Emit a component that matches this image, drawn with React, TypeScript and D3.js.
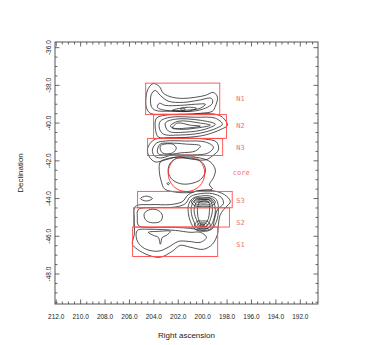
import * as d3 from "d3";

// plot frame (pixels)
const width = 376;
const height = 345;
const frame = { left: 55, top: 42, right: 318, bottom: 304 };

const raDomain = [212.1, 190.55];
const decDomain = [-35.7, -49.59];

const raTicks = [212, 210, 208, 206, 204, 202, 200, 198, 196, 194, 192];
const decTicks = [-36, -38, -40, -42, -44, -46, -48];
const minorStep = 0.5;

// red boxes
const boxNames = ["N1", "N2", "N3", "S3", "S2", "S1"];
const boxRa = [
  [204.67, 198.6],
  [204.02, 198.05],
  [204.51, 198.36],
  [205.33, 197.58],
  [205.66, 197.81],
  [205.74, 198.77],
];
const boxDec = [
  [-37.88, -39.55],
  [-39.55, -40.81],
  [-40.81, -41.72],
  [-43.62, -44.49],
  [-44.49, -45.51],
  [-45.51, -47.07],
];
const labelRa = 197.24;
const labelDec = [-38.69, -40.15, -41.3, -44.09, -45.28, -46.46];

const core = { ra: 201.33, dec: -42.66, radius: 0.97 };
const coreLabel = { ra: 197.53, dec: -42.6 };

// contour rings, [RA, Dec]
const n1Contours = [
  [[204.62,-39.16],[204.62,-38.53],[204.45,-38.16],[204.04,-37.9],[203.55,-38.06],[203.22,-38.42],[202.48,-38.63],[201.58,-38.69],[200.6,-38.63],[199.78,-38.53],[199.12,-38.37],[198.79,-38.63],[198.96,-39.11],[199.2,-39.37],[200.19,-39.48],[201.42,-39.53],[203.06,-39.53],[204.29,-39.48]],
  [[204.21,-39.11],[204.21,-38.48],[203.88,-38.27],[203.47,-38.53],[202.81,-38.84],[201.58,-38.9],[200.35,-38.79],[199.28,-38.69],[199.2,-38.95],[199.78,-39.21],[200.84,-39.37],[202.65,-39.37],[203.88,-39.32]],
  [[203.71,-39.16],[203.55,-38.95],[203.06,-39.06],[201.83,-39.06],[200.6,-39.0],[199.78,-39.0],[200.19,-39.21],[201.42,-39.32],[203.06,-39.32]],
  [[202.48,-39.32],[201.83,-39.21],[201.17,-39.16],[200.51,-39.21],[201.17,-39.37],[201.99,-39.37]],
  [[201.83,-39.24],[201.58,-39.21],[201.42,-39.27],[201.66,-39.32]],
];

const n2Contours = [
  [[203.79,-39.74],[203.06,-39.58],[201.01,-39.53],[198.96,-39.53],[198.38,-39.69],[197.97,-40.11],[198.46,-40.32],[199.78,-40.63],[201.01,-40.74],[202.65,-40.79],[203.63,-40.74],[203.88,-40.27]],
  [[203.47,-39.9],[202.65,-39.69],[200.6,-39.69],[198.96,-39.74],[198.38,-40.06],[198.87,-40.27],[200.19,-40.53],[201.83,-40.63],[203.22,-40.58],[203.55,-40.27]],
  [[203.06,-40.0],[202.24,-39.79],[200.19,-39.85],[198.96,-40.06],[199.78,-40.32],[201.42,-40.48],[202.81,-40.42]],
  [[202.65,-40.16],[201.99,-39.9],[200.19,-40.0],[199.37,-40.11],[200.6,-40.27],[201.99,-40.32]],
  [[202.48,-40.27],[202.07,-40.0],[201.01,-40.11],[200.19,-40.16],[201.42,-40.27]],
];

const n3Contours = [
  [[204.53,-41.42],[204.29,-41.06],[203.88,-40.85],[203.06,-40.79],[201.42,-40.79],[199.78,-40.85],[198.87,-41.0],[198.71,-41.42],[199.2,-41.74],[199.78,-41.95],[201.01,-41.9],[201.99,-41.79],[203.06,-41.95],[203.88,-42.06],[204.37,-41.79]],
  [[204.12,-41.42],[203.79,-41.06],[203.06,-40.95],[201.42,-40.95],[199.78,-41.0],[199.12,-41.27],[199.53,-41.58],[201.01,-41.69],[202.48,-41.69],[203.47,-41.85],[203.96,-41.74]],
  [[203.71,-41.42],[203.47,-41.11],[202.65,-41.06],[201.42,-41.11],[200.19,-41.21],[200.6,-41.48],[201.83,-41.58],[203.06,-41.69],[203.63,-41.63]],
  [[203.47,-41.21],[202.48,-41.11],[202.16,-41.32],[202.48,-41.58],[203.3,-41.58]],
];

const coreContours = [
  [[203.47,-42.06],[202.65,-41.85],[201.33,-41.79],[200.19,-41.85],[199.37,-42.06],[198.96,-42.48],[199.12,-42.9],[199.45,-43.27],[199.2,-43.48],[200.19,-43.58],[201.33,-43.69],[202.48,-43.63],[203.14,-43.48],[203.38,-43.11],[203.55,-42.58]],
  [[202.73,-42.21],[202.24,-41.9],[201.42,-41.85],[200.6,-41.9],[199.94,-42.16],[199.78,-42.58],[200.19,-43.0],[201.01,-43.21],[201.83,-43.21],[202.48,-43.0],[202.81,-42.63]],
  [[202.92,-43.21],[202.82,-43.15],[202.72,-43.21],[202.82,-43.27]],
];

const sContours = [
  // outer envelope
  [[205.52,-44.42],[204.29,-44.32],[202.65,-44.32],[201.66,-44.16],[201.17,-43.79],[200.35,-43.58],[199.2,-43.58],[198.22,-43.79],[197.73,-44.16],[198.14,-44.48],[198.55,-44.85],[198.71,-45.37],[198.79,-45.9],[199.2,-46.42],[199.94,-46.69],[201.01,-46.58],[201.83,-46.48],[202.48,-46.79],[203.47,-47.11],[204.45,-47.0],[205.35,-46.69],[205.76,-46.42],[205.6,-45.9],[205.6,-45.11]],
  // S2 band
  [[205.27,-44.58],[203.88,-44.48],[202.24,-44.45],[201.42,-44.27],[201.01,-43.9],[200.19,-43.74],[199.2,-43.74],[198.46,-43.95],[198.3,-44.27],[198.79,-44.58],[199.04,-45.11],[199.2,-45.53],[199.78,-45.69],[201.01,-45.58],[202.24,-45.53],[203.47,-45.53],[204.7,-45.53],[205.27,-45.42],[205.35,-45.01]],
  // S1 body
  [[205.35,-45.69],[204.29,-45.63],[202.24,-45.69],[201.01,-45.79],[200.19,-45.79],[199.69,-46.06],[200.19,-46.32],[201.17,-46.27],[201.99,-46.27],[202.81,-46.58],[203.63,-46.79],[204.62,-46.69],[205.19,-46.42],[205.44,-46.06]],
  // S1 inner with cusp
  [[204.45,-45.79],[203.63,-45.74],[202.65,-45.74],[202.97,-45.95],[203.3,-46.06],[203.47,-46.42],[203.63,-46.06],[204.04,-45.95]],
  // S2 left lobe
  [[204.78,-44.79],[204.29,-44.58],[203.63,-44.63],[203.3,-44.9],[203.47,-45.21],[204.29,-45.27],[204.7,-45.11]],
  // S3 small diamond
  [[205.11,-44.0],[204.62,-43.87],[204.12,-44.0],[204.62,-44.13]],
  // ridge ovals
  [[201.17,-44.37],[200.84,-44.0],[200.19,-43.87],[199.37,-43.87],[198.87,-44.06],[198.71,-44.58],[198.87,-45.21],[199.28,-45.63],[199.94,-45.74],[200.6,-45.63],[201.01,-45.21],[201.17,-44.79]],
  [[200.92,-44.42],[200.6,-44.06],[200.02,-43.98],[199.45,-43.98],[199.12,-44.16],[198.96,-44.63],[199.12,-45.16],[199.45,-45.53],[199.94,-45.61],[200.43,-45.53],[200.76,-45.16],[200.92,-44.79]],
  [[200.68,-44.48],[200.43,-44.13],[199.94,-44.06],[199.53,-44.06],[199.28,-44.21],[199.2,-44.63],[199.37,-45.11],[199.61,-45.42],[199.94,-45.5],[200.27,-45.42],[200.51,-45.11],[200.68,-44.79]],
  [[200.43,-44.58],[200.27,-44.21],[199.94,-44.13],[199.61,-44.13],[199.45,-44.27],[199.45,-44.69],[199.53,-45.06],[199.78,-45.32],[199.94,-45.4],[200.19,-45.32],[200.35,-45.06]],
  // S3 peak
  [[200.92,-44.19],[200.6,-43.98],[199.94,-43.97],[199.28,-43.98],[198.96,-44.19],[199.28,-44.39],[199.94,-44.41],[200.6,-44.39]],
  [[200.68,-44.19],[200.43,-44.06],[199.94,-44.05],[199.45,-44.06],[199.2,-44.19],[199.45,-44.32],[199.94,-44.33],[200.43,-44.32]],
  [[200.43,-44.19],[200.19,-44.15],[199.94,-44.14],[199.69,-44.15],[199.45,-44.19],[199.69,-44.23],[199.94,-44.24],[200.19,-44.23]],
  // S2/S1 peak
  [[200.68,-45.4],[200.43,-45.21],[200.02,-45.19],[199.61,-45.21],[199.37,-45.4],[199.61,-45.58],[200.02,-45.61],[200.43,-45.58]],
  [[200.43,-45.4],[200.27,-45.3],[200.02,-45.29],[199.78,-45.3],[199.61,-45.4],[199.78,-45.49],[200.02,-45.5],[200.27,-45.49]],
  [[200.23,-45.4],[200.02,-45.35],[199.81,-45.4],[200.02,-45.45]],
];

const sans = "'Liberation Sans', Arial, Helvetica, sans-serif";
const mono = "'DejaVu Sans Mono', monospace";

const App = () => {
  const x = d3.scaleLinear().domain(raDomain).range([frame.left, frame.right]);
  const y = d3.scaleLinear().domain(decDomain).range([frame.top, frame.bottom]);

  const ring = d3
    .line<number[]>()
    .x((d) => x(d[0]))
    .y((d) => y(d[1]))
    .curve(d3.curveCatmullRomClosed.alpha(0.5));

  const allContours = [...n1Contours, ...n2Contours, ...n3Contours, ...coreContours, ...sContours];

  const raMinor = d3.range(191, 212.01, minorStep).filter((v) => !raTicks.includes(v));
  const decMinor = d3.range(-49.5, -35.99, minorStep).filter((v) => !decTicks.includes(v));

  const major = 4.5;
  const minor = 2.5;
  const tickColor = "#444";

  return (
    <svg
      width={width}
      height={height}
      style={{ position: "absolute", left: 0, top: 0, background: "#fff" }}
    >
      <rect width={width} height={height} fill="#fff" />

      {/* contours */}
      <g fill="none" stroke="#1a1a1a" strokeWidth={0.75}>
        {allContours.map((c, i) => (
          <path key={i} d={ring(c) || ""} />
        ))}
      </g>

      {/* boxes */}
      <g fill="none" stroke="#ff4a4a" strokeWidth={0.9}>
        {boxNames.map((n, i) => (
          <rect
            key={n}
            x={x(boxRa[i][0])}
            y={y(boxDec[i][0])}
            width={x(boxRa[i][1]) - x(boxRa[i][0])}
            height={y(boxDec[i][1]) - y(boxDec[i][0])}
          />
        ))}
        <circle
          cx={x(core.ra)}
          cy={y(core.dec)}
          r={y(core.dec - core.radius) - y(core.dec)}
          stroke="#ff2a2a"
        />
      </g>
      <g fill="#f07272" fontFamily={mono} fontSize={7}>
        {boxNames.map((n, i) => (
          <text key={n} x={x(labelRa)} y={y(labelDec[i])} dy="0.35em">
            {n}
          </text>
        ))}
        <text x={x(coreLabel.ra)} y={y(coreLabel.dec)} dy="0.35em">
          core
        </text>
      </g>

      {/* frame + ticks */}
      <g stroke={tickColor} strokeWidth={0.8}>
        {raTicks.map((t) => (
          <g key={"rx" + t}>
            <line x1={x(t)} x2={x(t)} y1={frame.bottom} y2={frame.bottom - major} />
            <line x1={x(t)} x2={x(t)} y1={frame.top} y2={frame.top + major} />
          </g>
        ))}
        {raMinor.map((t) => (
          <g key={"rm" + t}>
            <line x1={x(t)} x2={x(t)} y1={frame.bottom} y2={frame.bottom - minor} />
            <line x1={x(t)} x2={x(t)} y1={frame.top} y2={frame.top + minor} />
          </g>
        ))}
        {decTicks.map((t) => (
          <g key={"dy" + t}>
            <line x1={frame.left} x2={frame.left + major} y1={y(t)} y2={y(t)} />
            <line x1={frame.right} x2={frame.right - major} y1={y(t)} y2={y(t)} />
          </g>
        ))}
        {decMinor.map((t) => (
          <g key={"dm" + t}>
            <line x1={frame.left} x2={frame.left + minor} y1={y(t)} y2={y(t)} />
            <line x1={frame.right} x2={frame.right - minor} y1={y(t)} y2={y(t)} />
          </g>
        ))}
      </g>
      <rect
        x={frame.left}
        y={frame.top}
        width={frame.right - frame.left}
        height={frame.bottom - frame.top}
        fill="none"
        stroke={tickColor}
        strokeWidth={0.9}
      />

      {/* tick labels */}
      <g fontFamily={sans} fontSize={6.5} fill="#222">
        {raTicks.map((t) => (
          <text key={t} x={x(t)} y={319} textAnchor="middle">
            {t.toFixed(1)}
          </text>
        ))}
        {decTicks.map((t) => (
          <text
            key={t}
            transform={`translate(50.5,${y(t)}) rotate(-90)`}
            textAnchor="middle"
          >
            {t.toFixed(1)}
          </text>
        ))}
      </g>

      {/* axis titles */}
      <g fontFamily={sans} fontSize={8} fill="#222">
        <text x={(frame.left + frame.right) / 2} y={338} textAnchor="middle">
          Right ascension
        </text>
        <text
          transform={`translate(22.5,${(frame.top + frame.bottom) / 2}) rotate(-90)`}
          textAnchor="middle"
        >
          Declination
        </text>
      </g>
    </svg>
  );
};

export default App;
